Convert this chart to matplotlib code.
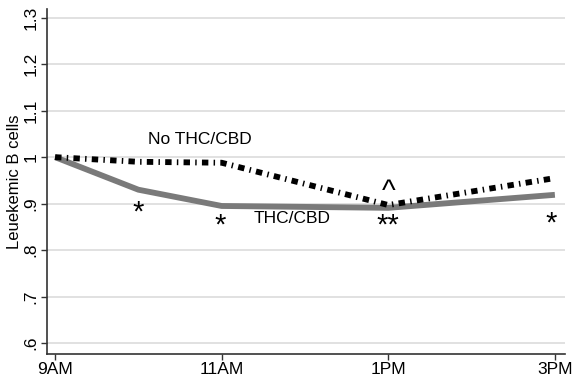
import matplotlib
matplotlib.use("Agg")
import matplotlib.pyplot as plt

# time points (hours, 24h clock) and group means
hours = [9, 10, 11, 13, 15]
no_thc = [1.0, 0.99, 0.988, 0.897, 0.955]
thc = [1.0, 0.93, 0.895, 0.891, 0.919]

xtick_pos = [9, 11, 13, 15]
xtick_labels = ["9AM", "11AM", "1PM", "3PM"]
ytick_pos = [0.6, 0.7, 0.8, 0.9, 1.0, 1.1, 1.2, 1.3]
ytick_labels = [".6", ".7", ".8", ".9", "1", "1.1", "1.2", "1.3"]

# significance marks: (x, y, text)
marks = [(10.0, 0.88, "*"), (10.98, 0.852, "*"), (13.0, 0.852, "**"),
         (14.95, 0.858, "*"), (13.0, 0.925, "^")]

plt.rcParams['font.family'] = ['Liberation Sans', 'DejaVu Sans']

fig = plt.figure(figsize=(5.77, 3.85), dpi=100)
ax = fig.add_axes([0.081, 0.081, 0.898, 0.896])

for y in ytick_pos:
    ax.axhline(y, color="#dcdcdc", lw=1.2, zorder=0)

ax.plot(hours, thc, color="#7a7a7a", lw=4.2, solid_capstyle="butt", zorder=2)
ax.plot(hours, no_thc, color="black", lw=4.2, linestyle=(0, (1.1, 0.9, 0.25, 0.9)),
        dash_capstyle="butt", zorder=3)

ax.text(10.74, 1.0375, "No THC/CBD", ha="center", va="center", fontsize=12.5)
ax.text(11.85, 0.869, "THC/CBD", ha="center", va="center", fontsize=12.5)
for x, y, t in marks:
    ax.text(x, y, t, ha="center", va="center", fontsize=21)

ax.set_xlim(8.9, 15.12)
ax.set_ylim(0.577, 1.319)
ax.set_xticks(xtick_pos)
ax.set_xticklabels(xtick_labels, fontsize=12.5)
ax.set_yticks(ytick_pos)
ax.set_yticklabels(ytick_labels, fontsize=12.5, rotation=90, va="center")
ax.set_ylabel("Leuekemic B cells", fontsize=12, labelpad=1)
ax.tick_params(length=4, width=1, pad=2, color="#333333")

for s in ["top", "right"]:
    ax.spines[s].set_visible(False)
for s in ["left", "bottom"]:
    ax.spines[s].set_color("#333333")
    ax.spines[s].set_linewidth(1.2)

fig.savefig("out.png", dpi=100)
